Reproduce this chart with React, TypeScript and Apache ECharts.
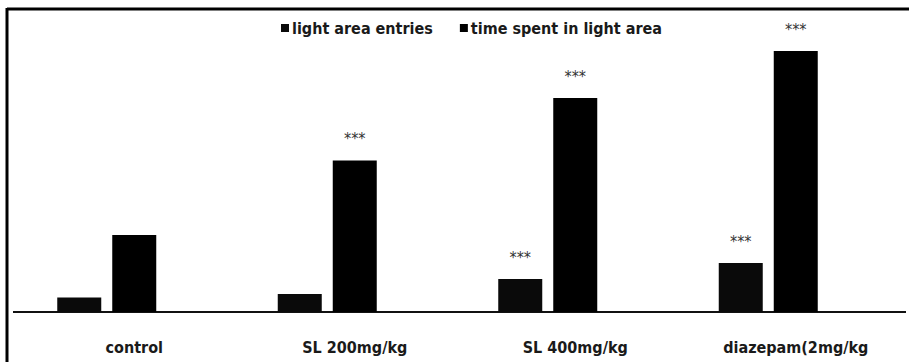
import React, { useEffect, useRef } from "react";
import * as echarts from "echarts";

// Groups tested in the light/dark box
const categories = ["control", "SL 200mg/kg", "SL 400mg/kg", "diazepam(2mg/kg"];
const seriesNames = ["light area entries", "time spent in light area"];
const lightAreaEntries = [5.8, 7.2, 13.2, 19.6];
const timeSpentInLightArea = [30.8, 60.6, 85.6, 104.4];
// Significance marks printed above each bar
const entriesSignificance = ["", "", "***", "***"];
const timeSignificance = ["", "***", "***", "***"];

const FONT = "'DejaVu Sans Condensed', 'Noto Sans', sans-serif";

export default function App() {
  const ref = useRef<HTMLDivElement>(null);

  useEffect(() => {
    document.body.style.margin = "0";
    if (!ref.current) return;
    const chart = echarts.init(ref.current, null, { renderer: "svg" });

    const sigLabel = (marks: string[]) => ({
      show: true,
      position: "top" as const,
      distance: 14,
      color: "#333",
      fontFamily: FONT,
      fontSize: 16,
      formatter: (p: any) => marks[p.dataIndex] || "",
    });

    chart.setOption({
      animation: false,
      backgroundColor: "#ffffff",
      textStyle: { fontFamily: FONT },
      legend: {
        data: seriesNames,
        top: 15,
        left: 276,
        itemWidth: 8,
        itemHeight: 8,
        itemGap: 27,
        icon: "rect",
        textStyle: {
          fontFamily: FONT,
          fontSize: 16,
          fontWeight: "bold",
          color: "#1a1a1a",
          padding: [0, 0, 0, -2],
        },
      },
      grid: { left: 24, right: 3, top: 12, bottom: 50, containLabel: false },
      xAxis: {
        type: "category",
        data: categories,
        axisLine: { show: false },
        axisTick: { show: false },
        axisLabel: {
          margin: 27,
          fontFamily: FONT,
          fontSize: 16,
          fontWeight: "bold",
          color: "#1a1a1a",
          interval: 0,
        },
      },
      yAxis: {
        type: "value",
        min: 0,
        max: 120,
        show: false,
        splitLine: { show: false },
      },
      series: [
        {
          name: seriesNames[0],
          type: "bar",
          data: lightAreaEntries,
          barWidth: 44,
          barGap: "25%",
          itemStyle: { color: "#0a0a0a" },
          label: sigLabel(entriesSignificance),
        },
        {
          name: seriesNames[1],
          type: "bar",
          data: timeSpentInLightArea,
          barWidth: 44,
          barGap: "25%",
          itemStyle: { color: "#000000" },
          label: sigLabel(timeSignificance),
        },
        {
          // empty slot that keeps each pair left of its label
          name: "spacer",
          type: "bar",
          data: [0, 0, 0, 0],
          barWidth: 44,
          barGap: "25%",
          silent: true,
          itemStyle: { color: "transparent" },
        },
      ],
      graphic: [
        // baseline
        {
          type: "line",
          shape: { x1: 13, y1: 312, x2: 906, y2: 312 },
          style: { stroke: "#111", lineWidth: 2 },
        },
        // frame (top and left edges)
        {
          type: "line",
          shape: { x1: 7, y1: 9, x2: 909, y2: 9 },
          style: { stroke: "#000", lineWidth: 3 },
        },
        {
          type: "line",
          shape: { x1: 7, y1: 8, x2: 7, y2: 362 },
          style: { stroke: "#000", lineWidth: 3 },
        },
      ],
    });

    return () => chart.dispose();
  }, []);

  return <div ref={ref} style={{ width: 909, height: 362 }} />;
}
